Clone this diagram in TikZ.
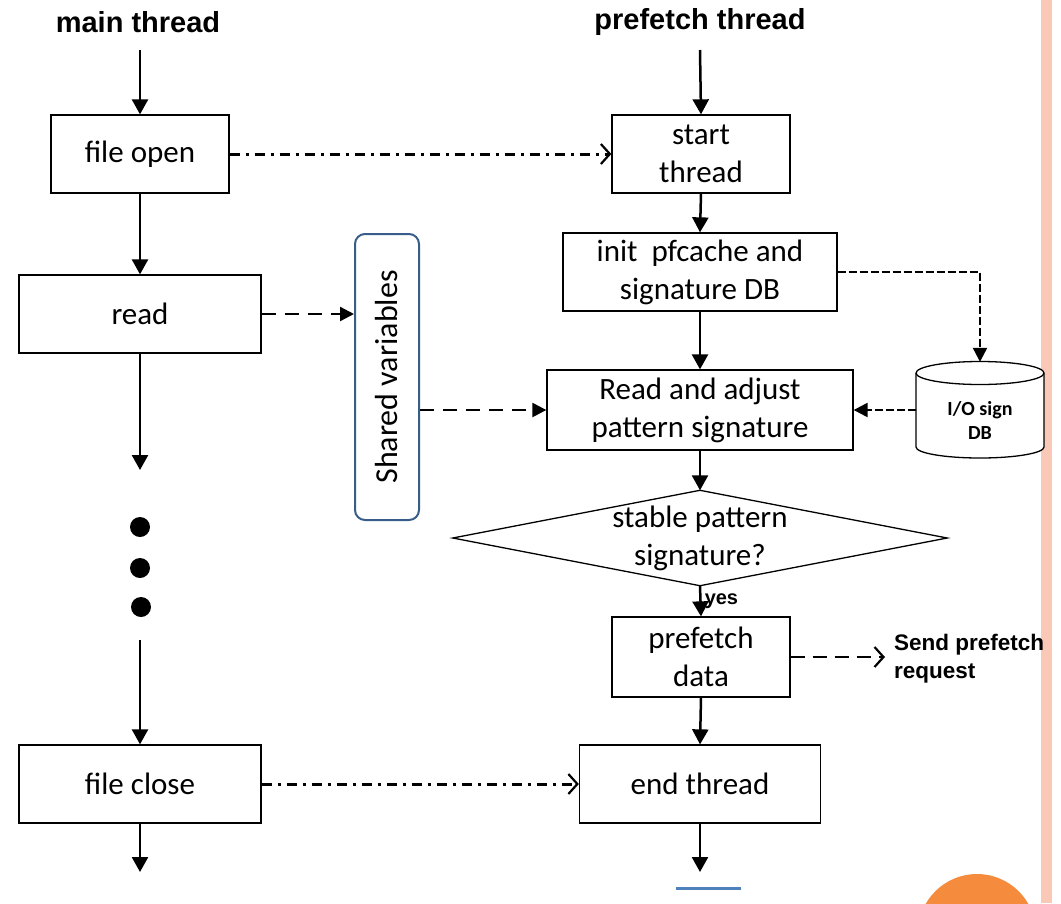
\documentclass[tikz,border=0pt]{standalone}
\usepackage{fontspec}
\setmainfont{Carlito}
\newfontfamily\arialfont{Liberation Sans}
\usetikzlibrary{arrows.meta}
\definecolor{svblue}{HTML}{385D8A}
\definecolor{accentblue}{HTML}{4F81BD}
\definecolor{accentorange}{HTML}{F58B3C}
\definecolor{stripe}{HTML}{F9C8B6}

\begin{document}
\begin{tikzpicture}[x=1pt,y=-1pt,
  box/.style={draw,line width=1.3pt,fill=white,align=center,inner sep=0pt,
    font=\fontsize{31}{38}\selectfont},
  head/.style={font=\arialfont\bfseries\fontsize{29}{34}\selectfont},
  flow/.style={line width=2.5pt,-{Triangle[length=15pt,width=16pt]}},
  dashdot/.style={line width=3pt,dash pattern=on 10pt off 6pt on 3pt off 6pt,
    -{Straight Barb[length=9pt,width=20pt,line width=2.2pt]}},
  dashtri/.style={line width=2.3pt,dash pattern=on 14pt off 9pt,
    -{Triangle[length=14pt,width=14pt]}},
  dashopen/.style={line width=2.5pt,dash pattern=on 14pt off 8pt,
    -{Straight Barb[length=9pt,width=20pt,line width=2.2pt]}},
  dbdash/.style={line width=2.3pt,dash pattern=on 8pt off 3pt,
    -{Triangle[length=14pt,width=14pt]}},
]
\useasboundingbox (0,0) rectangle (1061,903);

% slide decorations
\fill[stripe] (1041,0) rectangle (1052,903);
\begin{scope}
  \clip (0,0) rectangle (1061,903);
  \fill[accentorange] (977,933) circle (59pt);
\end{scope}
\draw[accentblue,line width=3pt] (676,888) -- (741,888);

% column headings
\node[head] (mt) at (138,22) {main thread};
\node[head] (pt) at (700,22) {prefetch thread};

% main thread boxes
\node[box,minimum width=178pt,minimum height=78pt] (fo) at (140,154) {file open};
\node[box,minimum width=242pt,minimum height=78pt] (rd) at (140,314) {read};
\node[box,minimum width=242pt,minimum height=78pt] (fc) at (140,784) {file close};

% prefetch thread boxes
\node[box,minimum width=178pt,minimum height=78pt] (st) at (701,154) {start\\thread};
\node[box,minimum width=274pt,minimum height=78pt] (init) at (700,272) {init\ \ pfcache and\\signature DB};
\node[box,minimum width=306pt,minimum height=80pt] (ra) at (700,410) {Read and adjust\\pattern signature};
\node[box,minimum width=178pt,minimum height=80pt] (pd) at (701,657) {prefetch\\data};
\node[box,minimum width=241pt,minimum height=78pt] (et) at (700,784) {end thread};

% decision
\node[align=center,inner sep=0pt,minimum width=494pt,minimum height=95pt,
  font=\fontsize{31}{38}\selectfont] (dia) at (700,538) {stable pattern\\signature?};
\draw[line width=1.3pt] (dia.west) -- (dia.north) -- (dia.east) -- (dia.south) -- cycle;

% shared variables
\node[draw=svblue,line width=2pt,rounded corners=10pt,minimum width=64pt,
  minimum height=286pt,inner sep=0pt] (sv) at (387,377)
  {\fontsize{32}{36}\selectfont\rotatebox{90}{Shared variables}};

% signature database cylinder
\node[minimum width=128pt,minimum height=96pt,inner sep=0pt] (db) at (980,410) {};
\draw[line width=1.3pt,fill=white]
  (916,373) -- (916,447) arc[start angle=180,end angle=360,x radius=64pt,y radius=11pt]
  -- (1044,373) arc[start angle=0,end angle=180,x radius=64pt,y radius=11.5pt];
\draw[line width=1.3pt] (916,373) arc[start angle=180,end angle=360,x radius=64pt,y radius=11.5pt];
\node[align=center,font=\fontsize{20}{24}\selectfont\bfseries] (dbt) at (980,420) {I/O sign\\DB};

% free ends
\coordinate (m0) at (140,50);
\coordinate (m1) at (140,470);
\coordinate (m2) at (140,640);
\coordinate (m3) at (140,872);
\coordinate (p0) at (700,50);
\coordinate (p3) at (700,872);
\coordinate (sp) at (885,657);

% main thread flow
\draw[flow] (m0) -- (fo.north);
\draw[flow] (fo.south) -- (rd.north);
\draw[flow] (rd.south) -- (m1);
\fill (140,527) circle (10pt);
\fill (140,568) circle (10pt);
\fill (141,607) circle (10pt);
\draw[flow] (m2) -- (fc.north);
\draw[flow] (fc.south) -- (m3);

% prefetch thread flow
\draw[flow] (p0) -- (st.north);
\draw[flow] (st.south) -- (init.north);
\draw[flow] (init.south) -- (ra.north);
\draw[flow] (ra.south) -- (dia.north);
\draw[flow] (dia.south) -- node[right,inner sep=3pt,font=\arialfont\bfseries\fontsize{20}{22}\selectfont] {yes} (pd.north);
\draw[flow] (pd.south) -- (et.north);
\draw[flow] (et.south) -- (p3);

% cross-thread links
\draw[dashdot] (fo.east) -- (st.west);
\draw[dashdot] (fc.east) -- (et.west);
\draw[dashtri] (rd.east) -- (rd.east -| sv.west);
\draw[dashtri] (sv.east |- ra.west) -- (ra.west);
\draw[dbdash] (init.east) -| (db.north);
\draw[dbdash] (db.west |- ra.east) -- (ra.east);
\draw[dashopen] (pd.east) -- (sp);
\node[anchor=west,align=left,inner sep=0pt,
  font=\arialfont\bfseries\fontsize{22.5}{28}\selectfont] (req) at (894,659) {Send prefetch\\request};
\end{tikzpicture}
\end{document}
